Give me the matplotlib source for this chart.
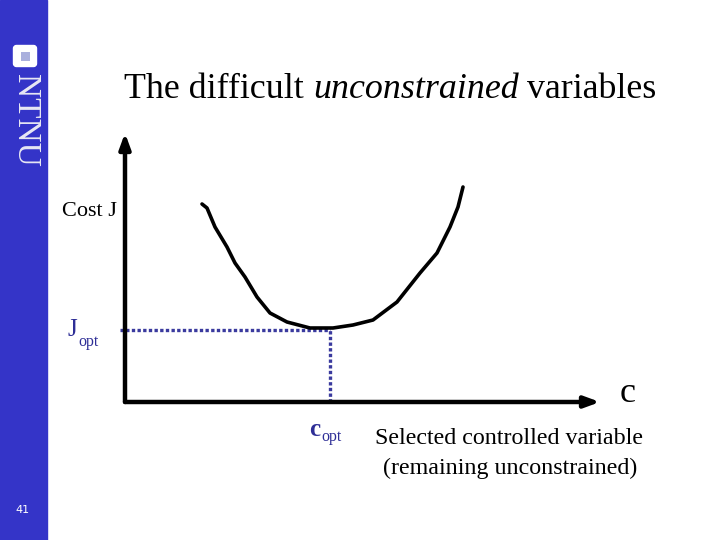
import matplotlib
matplotlib.use("Agg")
import matplotlib.pyplot as plt
from matplotlib.patches import Rectangle, FancyBboxPatch

# ---- data (c = controlled variable, J = cost), arbitrary units ----
c_curve = [77, 82, 90, 102, 110, 120, 132, 145, 162, 185, 208, 228, 248, 272, 295, 312, 325, 333, 338]
J_curve = [198, 194, 175, 155, 139, 125, 105, 89, 80, 74, 74, 77, 82, 100, 129, 149, 175, 195, 215]
c_opt = 205
J_opt = 72
c_max = 475
J_max = 269

title_plain1 = "The difficult "
title_italic = "unconstrained"
title_plain2 = " variables"
page_number = "41"

fig = plt.figure(figsize=(7.2, 5.4), dpi=100)
fig.patch.set_facecolor("white")

# overlay in pixel coordinates for slide decoration
ov = fig.add_axes([0, 0, 1, 1])
ov.set_xlim(0, 720)
ov.set_ylim(540, 0)
ov.axis("off")
blue = "#3434c8"
ov.add_patch(Rectangle((0, 0), 47, 540, color=blue, zorder=0))
ov.add_patch(FancyBboxPatch((14, 46), 22, 20, boxstyle="round,pad=0.5,rounding_size=3",
                            fc="white", ec="white", zorder=1))
ov.add_patch(Rectangle((20.5, 51.5), 9, 9, fc="#aab0dd", ec="none", zorder=2))
ov.text(25, 120, "NTNU", rotation=-90, ha="center", va="center", color="#e8e8f4",
        fontsize=24, family="Liberation Serif")
ov.text(22, 510, page_number, ha="center", va="center", color="white", fontsize=8,
        family="DejaVu Sans")

serif = "Liberation Serif"
tfs = 25.8
# title
t1 = ov.text(124, 90, title_plain1, ha="left", va="center", fontsize=tfs, family=serif)
fig.canvas.draw()
r = fig.canvas.get_renderer()
bb = t1.get_window_extent(r)
t2 = ov.text(bb.x1, 90, title_italic, ha="left", va="center", fontsize=tfs, family=serif,
             style="italic", transform=None)
t2.set_transform(matplotlib.transforms.IdentityTransform())
t2.set_position((bb.x1, 540 - 90))
t2.set_va("center")
fig.canvas.draw()
bb2 = t2.get_window_extent(r)
t3 = ov.text(bb2.x1, 540 - 90, title_plain2, ha="left", va="center", fontsize=tfs, family=serif)
t3.set_transform(matplotlib.transforms.IdentityTransform())

# main diagram axes
ax = fig.add_axes([125/720, (540-402)/540, (600-125)/720, (402-133)/540])
ax.set_xlim(0, c_max)
ax.set_ylim(0, J_max)
ax.axis("off")
ax.patch.set_alpha(0)

# axes arrows
ax.annotate("", xy=(0, J_max), xytext=(0, 0),
            arrowprops=dict(arrowstyle="-|>,head_length=0.9,head_width=0.33", lw=3.2, color="black",
                            shrinkA=0, shrinkB=0), annotation_clip=False)
ax.annotate("", xy=(c_max, 0), xytext=(0, 0),
            arrowprops=dict(arrowstyle="-|>,head_length=0.9,head_width=0.33", lw=3.2, color="black",
                            shrinkA=0, shrinkB=0), annotation_clip=False)

# dotted optimum lines
dot_col = "#3a3a9e"
ax.plot([-5, c_opt], [J_opt, J_opt], color=dot_col, lw=2.4, ls=(0, (1, 0.7)), clip_on=False)
ax.plot([c_opt, c_opt], [0, J_opt], color=dot_col, lw=2.4, ls=(0, (1, 0.7)), clip_on=False)

# cost curve
ax.plot(c_curve, J_curve, color="black", lw=2.6, solid_capstyle="round", clip_on=False)

# labels
lab_col = "#2e2e96"
ov.text(62, 211, "Cost J", ha="left", va="center", fontsize=16, family=serif)
ov.text(67, 330, "J", ha="left", va="center", fontsize=18, family=serif, color=lab_col)
ov.text(78, 342, "opt", ha="left", va="center", fontsize=11.5, family=serif, color=lab_col)
ov.text(309, 429, "c", ha="left", va="center", fontsize=18, family=serif, color=lab_col,
        fontweight="bold")
ov.text(321, 437, "opt", ha="left", va="center", fontsize=11.5, family=serif, color=lab_col)
ov.text(620, 393, "c", ha="left", va="center", fontsize=26, family=serif)
ov.text(509, 439, "Selected controlled variable", ha="center", va="center", fontsize=17.3,
        family=serif)
ov.text(510, 468, "(remaining unconstrained)", ha="center", va="center", fontsize=17.3,
        family=serif)

fig.savefig("out.png", dpi=100)
